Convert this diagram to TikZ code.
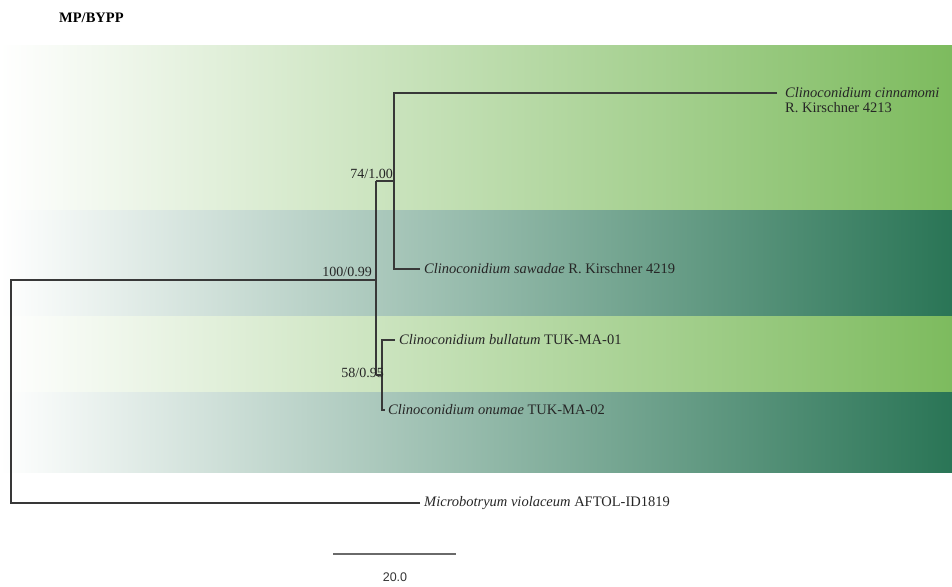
\documentclass[tikz,border=0pt]{standalone}
\usepackage{fontspec}
\setmainfont{Liberation Serif}
\newfontfamily\arialfont{Liberation Sans}
\definecolor{lightgr}{HTML}{7DBB5E}
\definecolor{darkgr}{HTML}{2A7556}
\definecolor{branch}{HTML}{383838}
\definecolor{barcol}{HTML}{6A6A6A}
\begin{document}
\begin{tikzpicture}[x=1pt,y=-1pt,
  br/.style={draw=branch, line width=1.3pt},
  taxon/.style={anchor=west, inner xsep=4pt, inner ysep=0pt, font=\fontsize{14.5}{16}\selectfont, text=black!85},
  suplab/.style={inner sep=0pt, font=\fontsize{14}{16}\selectfont, text=black!85}]
\useasboundingbox (0,0) rectangle (952,586);
% coloured bands
\shade[left color=white, right color=lightgr] (0,46) rectangle (952,210);
\shade[left color=white, right color=darkgr] (0,210) rectangle (952,316);
\shade[left color=white, right color=lightgr] (0,316) rectangle (952,392);
\shade[left color=white, right color=darkgr] (0,392) rectangle (952,472);
% title
\node[anchor=base west, inner sep=0pt, font=\bfseries\fontsize{14.5}{16}\selectfont] (title) at (59,23) {MP/BYPP};
% internal coordinates
\coordinate (r) at (11,280);
\coordinate (A) at (376,280);
\coordinate (Atop) at (376,181);
\coordinate (Abot) at (376,375);
\coordinate (B) at (394,181);
\coordinate (C) at (382,375);
% taxa
\node[taxon, inner xsep=8pt] (cin) at (777,93) {\textit{Clinoconidium cinnamomi}};
\node[taxon, inner xsep=8pt] (cin2) at (777,108) {R. Kirschner 4213};
\node[taxon] (saw) at (420,269) {\textit{Clinoconidium sawadae} R. Kirschner 4219};
\node[taxon] (bul) at (395,340) {\textit{Clinoconidium bullatum} TUK-MA-01};
\node[taxon, inner xsep=3pt] (onu) at (385,410) {\textit{Clinoconidium onumae} TUK-MA-02};
\node[taxon] (mic) at (420,503) {\textit{Microbotryum violaceum} AFTOL-ID1819};
% branches
\draw[br] (mic.west) -| (r) -- (A);
\draw[br] (Atop) -- (Abot);
\draw[br] (Atop) -- (B);
\draw[br] (cin.west) -| (B) |- (saw.west);
\draw[br] (Abot) -- (C);
\draw[br] (bul.west) -| (C) |- (onu.west);
% support values
\node[suplab, anchor=base east] (l74) at (393,178) {74/1.00};
\node[suplab, anchor=base east] (l100) at (372,276) {100/0.99};
\node[suplab, anchor=base east] (l58) at (384,377) {58/0.95};
% scale bar
\coordinate (s1) at (333,554);
\coordinate (s2) at (456,554);
\draw[draw=barcol, line width=2pt] (s1) -- (s2);
\node[inner sep=0pt, font=\arialfont\fontsize{12.5}{14}\selectfont, text=black!80] (sl) at (395,577) {20.0};
\end{tikzpicture}
\end{document}
